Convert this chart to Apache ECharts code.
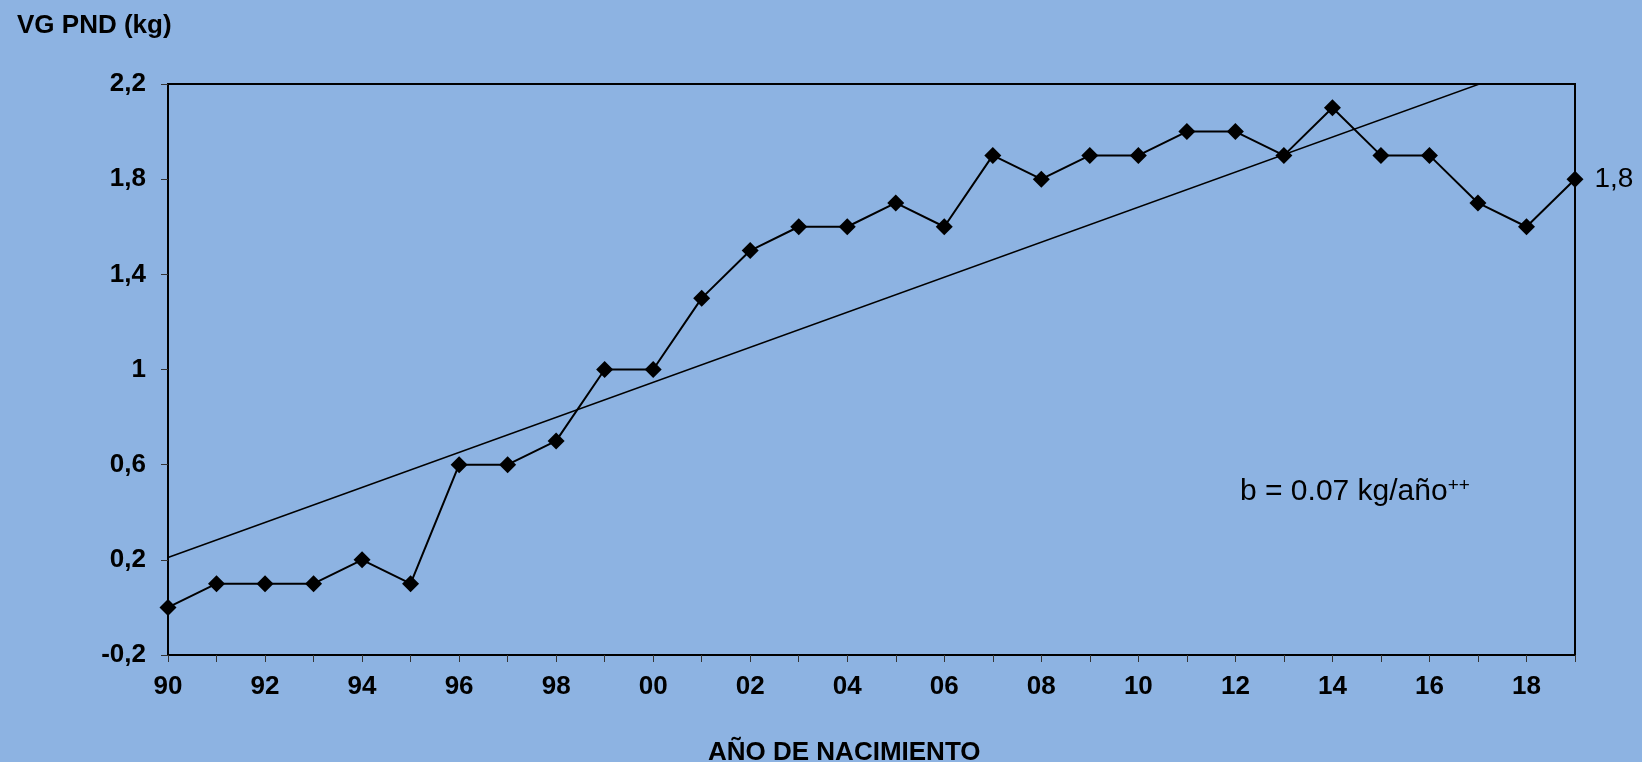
<!DOCTYPE html>
<html>
<head>
<meta charset="utf-8">
<script src="https://cdn.jsdelivr.net/npm/echarts@6/dist/echarts.min.js"></script>
<style>
html,body{margin:0;padding:0;background:#8DB3E2;}
#c{width:1642px;height:762px;}
</style>
</head>
<body>
<div id="c"></div>
<script>
const years = ['90','91','92','93','94','95','96','97','98','99','00','01','02','03','04','05','06','07','08','09','10','11','12','13','14','15','16','17','18','19'];
const vgPnd = [0,0.1,0.1,0.1,0.2,0.1,0.6,0.6,0.7,1.0,1.0,1.3,1.5,1.6,1.6,1.7,1.6,1.9,1.8,1.9,1.9,2.0,2.0,1.9,2.1,1.9,1.9,1.7,1.6,1.8];
const trendYears = ['90','19'];
const trendValues = [0.21, 2.345];
const yTicks = [-0.2, 0.2, 0.6, 1, 1.4, 1.8, 2.2];
const titleText = 'VG PND (kg)';
const xTitle = 'AÑO DE NACIMIENTO';

const FONT = '"Liberation Sans", Arial, sans-serif';
const comma = v => String(v).replace('.', ',');
const last = vgPnd.length - 1;

const chart = echarts.init(document.getElementById('c'));
chart.setOption({
  animation: false,
  backgroundColor: '#8DB3E2',
  textStyle: { fontFamily: FONT },
  title: {
    text: titleText, left: 12, top: 8,
    textStyle: { fontFamily: FONT, fontSize: 26, fontWeight: 'bold', color: '#000' }
  },
  grid: {
    left: 168, right: 67, top: 84, bottom: 107,
    show: true, borderColor: '#000', borderWidth: 2, backgroundColor: 'transparent'
  },
  xAxis: {
    type: 'category', data: years, boundaryGap: false,
    axisLine: { onZero: false, lineStyle: { color: '#000', width: 2 } },
    axisTick: { show: true, interval: 0, length: 7, lineStyle: { color: '#333', width: 1 } },
    axisLabel: { interval: 1, margin: 19, fontSize: 26, fontWeight: 'bold', color: '#000', fontFamily: FONT },
    splitLine: { show: false }
  },
  yAxis: {
    type: 'value', min: -0.2, max: 2.2,
    axisLine: { show: true, onZero: false, lineStyle: { color: '#000', width: 2 } },
    axisTick: { show: true, length: 7, customValues: yTicks, lineStyle: { color: '#333', width: 1 } },
    axisLabel: { customValues: yTicks, margin: 22, fontSize: 26, fontWeight: 'bold', color: '#000', fontFamily: FONT, formatter: comma },
    splitLine: { show: false }
  },
  graphic: [
    {
      type: 'text', left: 708, top: 740,
      style: { text: xTitle, font: 'bold 26px ' + FONT, fill: '#000' }
    },
    {
      type: 'text', x: 1240, y: 492,
      style: {
        text: '{m|b = 0.07 kg/año}{s|++}',
        verticalAlign: 'middle',
        rich: {
          m: { fontSize: 30, fontFamily: FONT, color: '#000', verticalAlign: 'middle' },
          s: { fontSize: 19, fontFamily: FONT, color: '#000', verticalAlign: 'top', padding: [0,0,12,0] }
        }
      }
    }
  ],
  series: [
    {
      type: 'line',
      data: trendYears.map((y, i) => [y, trendValues[i]]),
      symbol: 'none',
      lineStyle: { color: '#000', width: 1.5 },
      clip: true, z: 1, silent: true
    },
    {
      type: 'line',
      data: vgPnd.map((v, i) => i === last ? {
        value: v,
        label: { show: true, position: 'right', distance: 11, formatter: p => comma(p.value), fontSize: 28, color: '#000', fontFamily: FONT }
      } : v),
      symbol: 'diamond', symbolSize: 17, showAllSymbol: true,
      itemStyle: { color: '#000' },
      lineStyle: { color: '#000', width: 2 },
      clip: false, z: 2
    }
  ]
});
</script>
</body>
</html>
